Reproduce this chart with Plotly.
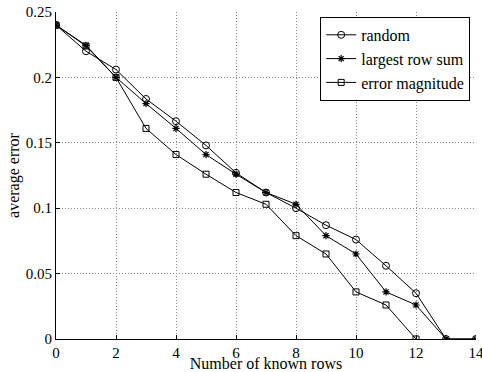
import plotly.graph_objects as go

x_rows = list(range(0, 15))
random_err = [0.240, 0.220, 0.206, 0.1835, 0.1665, 0.148, 0.127, 0.112, 0.100, 0.087, 0.076, 0.056, 0.035, 0.0, 0.0]
largest_err = [0.240, 0.2245, 0.200, 0.180, 0.161, 0.141, 0.126, 0.112, 0.103, 0.079, 0.065, 0.036, 0.026, 0.0, 0.0]
x_mag = list(range(0, 13))
magnitude_err = [0.240, 0.224, 0.200, 0.161, 0.141, 0.126, 0.112, 0.103, 0.079, 0.065, 0.036, 0.026, 0.0]

FONT = "Liberation Serif"

fig = go.Figure()
fig.add_trace(go.Scatter(x=x_rows, y=random_err, name="random", mode="lines+markers",
                         line=dict(color="black", width=1),
                         marker=dict(symbol="circle-open", size=7, color="black", line=dict(width=1))))
fig.add_trace(go.Scatter(x=x_rows, y=largest_err, name="largest row sum", mode="lines+markers",
                         line=dict(color="black", width=1),
                         marker=dict(symbol="asterisk-open", size=6, color="black", line=dict(width=1.2))))
fig.add_trace(go.Scatter(x=x_mag, y=magnitude_err, name="error magnitude", mode="lines+markers",
                         line=dict(color="black", width=1),
                         marker=dict(symbol="square-open", size=6, color="black", line=dict(width=1))))

axis_common = dict(showline=True, linecolor="black", linewidth=1.2, mirror=False,
                   ticks="inside", ticklen=4, tickcolor="black",
                   showgrid=True, gridcolor="#888888", griddash="1px,2px", gridwidth=1,
                   zeroline=False, automargin=False, ticklabeloverflow="allow",
                   tickfont=dict(family=FONT, size=15, color="black"))

fig.update_layout(
    width=482, height=372,
    margin=dict(l=56, r=6, t=12, b=33),
    paper_bgcolor="white", plot_bgcolor="white",
    font=dict(family=FONT, color="black"),
    showlegend=True,
    legend=dict(x=0.629, y=0.985, xanchor="left", yanchor="top",
                bordercolor="black", borderwidth=1, bgcolor="white",
                font=dict(family=FONT, size=16, color="black"),
                tracegroupgap=0, itemwidth=30),
    xaxis=dict(range=[0, 14], dtick=2, tick0=0,
               title=dict(text="Number of known rows", font=dict(family=FONT, size=16), standoff=0),
               **axis_common),
    yaxis=dict(range=[0, 0.25], dtick=0.05, tick0=0,
               title=dict(text="average error", font=dict(family=FONT, size=16), standoff=2),
               **axis_common),
)

fig.write_html("out.html", config={"displayModeBar": False},
               post_script="document.body.style.margin='0';")
